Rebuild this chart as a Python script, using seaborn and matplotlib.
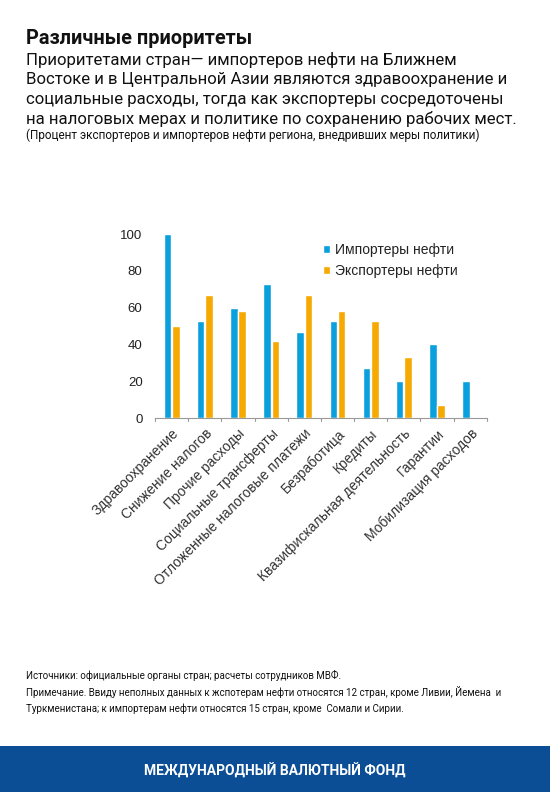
import numpy as np
import pandas as pd
import matplotlib
matplotlib.use("Agg")
import matplotlib.pyplot as plt
import seaborn as sns

# Данные (процент стран, внедривших меры)
categories = ['Здравоохранение', 'Снижение налогов', 'Прочие расходы',
              'Социальные трансферты', 'Отложенные налоговые платежи',
              'Безработица', 'Кредиты', 'Квазифискальная деятельность',
              'Гарантии', 'Мобилизация расходов']
importers = [100, 53, 60, 73, 47, 53, 27, 20, 40, 20]
exporters = [50, 67, 58, 42, 67, 58, 53, 33, 7, 0]
series_names = ['Импортеры нефти', 'Экспортеры нефти']
y_ticks = [0, 20, 40, 60, 80, 100]

BLUE = '#0AA0DE'
ORANGE = '#F6A900'
NAVY = '#0C4E96'

sns.set_theme(style='white')
plt.rcParams['font.family'] = ['Liberation Sans', 'DejaVu Sans']

df = pd.DataFrame({
    'cat': categories * 2,
    'val': importers + exporters,
    'series': [series_names[0]] * len(categories) + [series_names[1]] * len(categories),
})

fig = plt.figure(figsize=(5.5, 7.92), dpi=100)
ax = fig.add_axes([0.282, 0.4722, 0.603, 0.2323])

sns.barplot(data=df, x='cat', y='val', hue='series', order=categories,
            hue_order=series_names, palette=[BLUE, ORANGE], width=0.5,
            gap=0.1, saturation=1, ax=ax, legend=True)

ax.set_ylim(0, 100)
ax.set_xlim(-0.5, len(categories) - 0.5)
ax.set_yticks(y_ticks)
ax.set_yticklabels([str(t) for t in y_ticks], fontsize=9.5, color='#222222')
ax.set_xlabel('')
ax.set_ylabel('')
ax.set_xticks(range(len(categories)))
ax.set_xticklabels(categories, rotation=45, ha='right', rotation_mode='anchor',
                   fontsize=10, color='#333333')
ax.tick_params(axis='x', length=0, pad=6)
ax.tick_params(axis='y', length=0, pad=9)
for s in ['top', 'right', 'left']:
    ax.spines[s].set_visible(False)
ax.spines['bottom'].set_color('#999999')
ax.spines['bottom'].set_linewidth(0.8)
# деления между группами
for b in np.arange(-0.5, len(categories) + 0.5, 1.0):
    ax.plot([b, b], [0, -1.6], color='#999999', lw=0.8, clip_on=False)

leg = ax.legend(loc='upper left', bbox_to_anchor=(0.47, 1.02), frameon=False,
                fontsize=10, handlelength=0.45, handleheight=0.45,
                handletextpad=0.35, labelspacing=0.5)
for t in leg.get_texts():
    t.set_color('#222222')

# Заголовки
fig.text(0.047, 1 - 39 / 792, 'Различные приоритеты', fontsize=14.3, fontweight='bold',
         family=['Roboto', 'DejaVu Sans'], va='center', color='#111111')
subtitle = ['Приоритетами стран— импортеров нефти на Ближнем',
            'Востоке и в Центральной Азии являются здравоохранение и',
            'социальные расходы, тогда как экспортеры сосредоточены',
            'на налоговых мерах и политике по сохранению рабочих мест.']
for i, line in enumerate(subtitle):
    fig.text(0.047, 1 - (60 + 19.7 * i) / 792, line, fontsize=12.05,
             family=['Roboto', 'DejaVu Sans'], va='center', color='#111111')
fig.text(0.047, 1 - 135 / 792,
         '(Процент экспортеров и импортеров нефти региона, внедривших меры политики)',
         fontsize=8.5, family=['Roboto', 'DejaVu Sans'], va='center', color='#111111')

# Источники и примечание
notes = ['Источники: официальные органы стран; расчеты сотрудников МВФ.',
         'Примечание. Ввиду неполных данных к жспотерам нефти относятся 12 стран, кроме Ливии, Йемена  и',
         'Туркменистана; к импортерам нефти относятся 15 стран, кроме  Сомали и Сирии.']
for i, line in enumerate(notes):
    fig.text(0.047, 1 - (675 + 17 * i) / 792, line, fontsize=7.0,
             family=['Roboto', 'DejaVu Sans'], va='center', color='#111111')

# Синяя полоса внизу
fig.patches.append(plt.Rectangle((0, 0), 1, 46 / 792, transform=fig.transFigure,
                                 facecolor=NAVY, edgecolor='none'))
fig.text(0.5, 21 / 792, 'МЕЖДУНАРОДНЫЙ ВАЛЮТНЫЙ ФОНД', fontsize=10, fontweight='bold',
         family=['Roboto', 'DejaVu Sans'], ha='center', va='center', color='white')

fig.savefig('out.png', dpi=100)
